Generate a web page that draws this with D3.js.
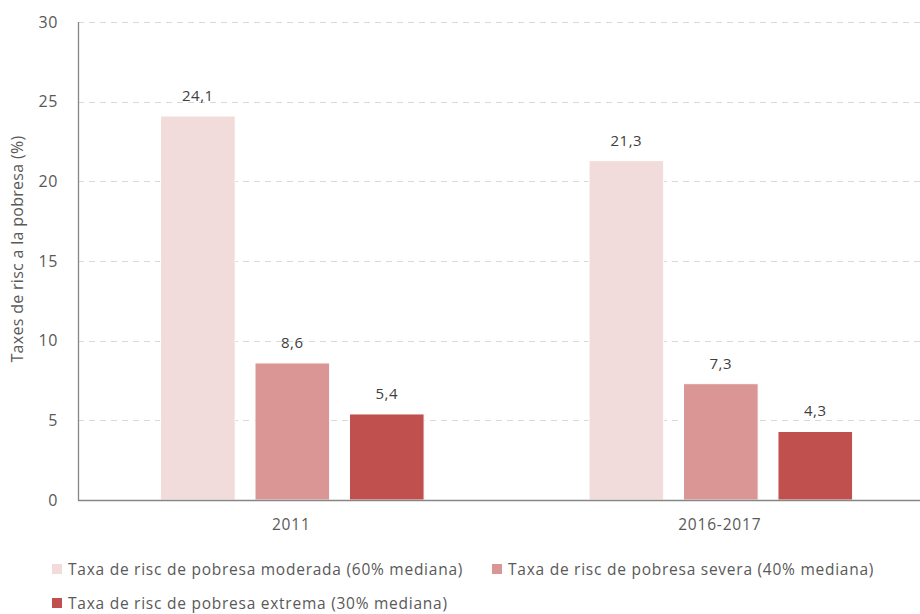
<!DOCTYPE html>
<html>
<head>
<meta charset="utf-8">
<script src="https://cdn.jsdelivr.net/npm/d3@7"></script>
<style>
  body { margin: 0; background: #fff; }
  svg text { font-family: "Open Sans", "Noto Sans", sans-serif; fill: #595959; }
</style>
</head>
<body>
<div id="chart"></div>
<script>
var categories = ["2011", "2016-2017"];
var seriesNames = [
  "Taxa de risc de pobresa moderada (60% mediana)",
  "Taxa de risc de pobresa severa (40% mediana)",
  "Taxa de risc de pobresa extrema (30% mediana)"
];
var moderada = [24.1, 21.3];
var severa = [8.6, 7.3];
var extrema = [5.4, 4.3];
var yTicks = [0, 5, 10, 15, 20, 25, 30];
var colors = ["#f2dcdb", "#d99694", "#c0504d"];

var allSeries = [moderada, severa, extrema];

var width = 920, height = 614,
    plotLeft = 78, plotRight = 934, plotTop = 22, plotBottom = 500;

var svg = d3.select("#chart").append("svg")
  .attr("width", width)
  .attr("height", height);

var x = d3.scaleBand().domain(categories).range([plotLeft - 1, plotRight]);
var bw = x.bandwidth();
var xInner = d3.scaleBand().domain(d3.range(seriesNames.length))
  .range([bw * 0.195, bw * 0.81]).paddingInner(0.21);
var y = d3.scaleLinear().domain([0, 30]).range([plotBottom, plotTop]);

// grid
svg.append("g").selectAll("line")
  .data(yTicks.filter(function(d){ return d > 0; }))
  .enter().append("line")
  .attr("x1", plotLeft).attr("x2", width)
  .attr("y1", function(d){ return Math.round(y(d)) + 0.5; })
  .attr("y2", function(d){ return Math.round(y(d)) + 0.5; })
  .attr("stroke", "#d9d9d9")
  .attr("stroke-dasharray", "6,5");

// y labels
svg.append("g").selectAll("text")
  .data(yTicks).enter().append("text")
  .attr("x", 58)
  .attr("y", function(d){ return y(d); })
  .attr("dy", ".35em")
  .attr("text-anchor", "end")
  .style("font-size", "16px")
  .style("letter-spacing", "0.6px")
  .text(function(d){ return d; });

// bars
var group = svg.selectAll("g.grp")
  .data(categories).enter().append("g")
  .attr("class", "grp")
  .attr("transform", function(d){ return "translate(" + x(d) + ",0)"; });

group.each(function(c, ci) {
  var g = d3.select(this);
  var vals = allSeries.map(function(s, si){ return {si: si, v: s[ci]}; });
  g.selectAll("rect").data(vals).enter().append("rect")
    .attr("x", function(d){ return xInner(d.si); })
    .attr("width", xInner.bandwidth())
    .attr("y", function(d){ return y(d.v); })
    .attr("height", function(d){ return plotBottom - y(d.v); })
    .attr("fill", function(d){ return colors[d.si]; })
    .attr("stroke", "#fff")
    .attr("stroke-width", 1);
  g.selectAll("text.val").data(vals).enter().append("text")
    .attr("class", "val")
    .attr("x", function(d){ return xInner(d.si) + xInner.bandwidth() / 2; })
    .attr("y", function(d){ return y(d.v) - 15; })
    .attr("text-anchor", "middle")
    .style("font-size", "15px")
    .style("letter-spacing", "0.5px")
    .style("fill", "#404040")
    .text(function(d){ return String(d.v).replace(".", ","); });
});

// axes lines
svg.append("line")
  .attr("x1", plotLeft + 0.5).attr("x2", plotLeft + 0.5)
  .attr("y1", plotTop).attr("y2", plotBottom + 0.5)
  .attr("stroke", "#868686").attr("stroke-width", 1.3);
svg.append("line")
  .attr("x1", plotLeft).attr("x2", width)
  .attr("y1", plotBottom + 0.5).attr("y2", plotBottom + 0.5)
  .attr("stroke", "#868686").attr("stroke-width", 1.3);

// x labels
svg.append("g").selectAll("text")
  .data(categories).enter().append("text")
  .attr("x", function(d){ return x(d) + bw / 2; })
  .attr("y", 530)
  .attr("text-anchor", "middle")
  .style("font-size", "15.5px")
  .style("letter-spacing", "0.8px")
  .text(function(d){ return d; });

// y title
svg.append("text")
  .attr("transform", "translate(23,249) rotate(-90)")
  .attr("text-anchor", "middle")
  .style("font-size", "16px")
  .style("letter-spacing", "0.3px")
  .text("Taxes de risc a la pobresa (%)");

// legend
var legendPos = [[52, 570], [492, 570], [52, 604]];
var leg = svg.selectAll("g.leg")
  .data(seriesNames).enter().append("g")
  .attr("class", "leg")
  .attr("transform", function(d, i){ return "translate(" + legendPos[i][0] + "," + legendPos[i][1] + ")"; });
leg.append("rect")
  .attr("x", 0).attr("y", -6)
  .attr("width", 10).attr("height", 10)
  .attr("fill", function(d, i){ return colors[i]; });
leg.append("text")
  .attr("x", 16).attr("y", 0)
  .attr("dy", ".35em")
  .style("font-size", "15.5px")
  .style("letter-spacing", "0.75px")
  .text(function(d){ return d; });
</script>
</body>
</html>
